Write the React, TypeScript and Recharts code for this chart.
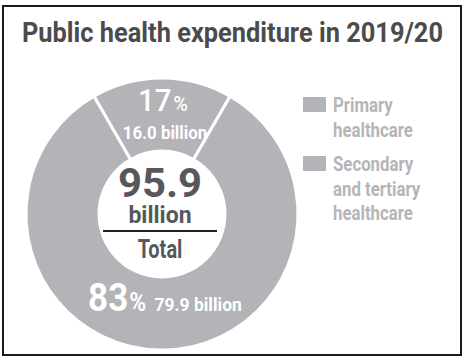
import { Pie, PieChart, Cell, Legend } from 'recharts';

// spending in billions, 2019/20
const categories = ['Primary\nhealthcare', 'Secondary\nand tertiary\nhealthcare'];
const values = [16.0, 79.9];
const title = 'Public health expenditure in 2019/20';
const totalLabel = 'Total';
const unit = 'billion';

const SLICE = '#b3b3b8';
const DARK = '#58585a';
const FONT = 'Roboto, sans-serif';

const data = categories.map((name, i) => ({ name, value: values[i] }));
const total = values.reduce((s, v) => s + v, 0);
const startAngle = 90 + (values[0] / total) * 180;

const CX = 157;
const CY = 209;
const RADIAN = Math.PI / 180;

// the original uses a condensed face, so squeeze Roboto horizontally
const Narrow = ({ x, y, sx = 0.8, anchor = 'middle', children, ...rest }: any) => (
  <text transform={`translate(${x},${y}) scale(${sx},1)`} textAnchor={anchor} fontFamily={FONT} fontWeight={700} {...rest}>
    {children}
  </text>
);

const renderSliceLabel = (props: any) => {
  const { cx, cy, midAngle, innerRadius, outerRadius, percent, value, index } = props;
  const r = (innerRadius + outerRadius) / 2;
  const x = cx + r * Math.cos(-midAngle * RADIAN);
  const y = cy + r * Math.sin(-midAngle * RADIAN);
  const pct = Math.round(percent * 100);
  if (index === 0) {
    return (
      <g>
        <Narrow x={x + 1} y={y - 4} sx={0.95} fill='#fff' fontWeight={500}>
          <tspan fontSize={31}>{pct}</tspan>
          <tspan fontSize={21} dx={2}>%</tspan>
        </Narrow>
        <Narrow x={x + 3} y={y + 24} sx={0.94} fontSize={18} fill='#fff'>
          {`${value.toFixed(1)} ${unit}`}
        </Narrow>
      </g>
    );
  }
  return (
    <Narrow x={x + 3} y={y - 3} sx={0.92} fill='#fff'>
      <tspan fontSize={38}>{pct}</tspan>
      <tspan fontSize={25} dx={1}>%</tspan>
      <tspan fontSize={19} dx={9}>{`${value.toFixed(1)} ${unit}`}</tspan>
    </Narrow>
  );
};

const LegendBox = (props: any) => {
  let top = 0;
  return (
    <svg width={160} height={140} style={{ display: 'block' }}>
      {(props.payload || []).map((entry: any) => {
        const lines = String(entry.value).split('\n');
        const y0 = top;
        top += lines.length * 24.5 + 10;
        return (
          <g key={entry.value}>
            <rect x={0} y={y0 + 3} width={23} height={15} fill={SLICE} />
            {lines.map((ln, j) => (
              <Narrow key={ln} x={30} y={y0 + 18 + j * 24.5} anchor='start' fontSize={21} fill='#b5b5b9'>
                {ln}
              </Narrow>
            ))}
          </g>
        );
      })}
    </svg>
  );
};

export default function App() {
  return (
    <div style={{ position: 'absolute', left: 0, top: 0, width: 466, height: 363, background: '#fff' }}>
      <div
        style={{
          position: 'absolute', left: 2, top: 5, width: 460, height: 351,
          border: '2px solid #1a1a1a', boxSizing: 'border-box',
        }}
      />
      <PieChart width={466} height={363} style={{ position: 'absolute', left: 0, top: 0 }}>
        <text
          x={22}
          y={42}
          textLength={421}
          lengthAdjust='spacingAndGlyphs'
          fontFamily={FONT}
          fontWeight={700}
          fontSize={28}
          fill='#4b4b4d'
        >
          {title}
        </text>
        <Pie
          data={data}
          dataKey='value'
          nameKey='name'
          cx={CX}
          cy={CY}
          innerRadius={63}
          outerRadius={136}
          startAngle={startAngle}
          endAngle={startAngle - 360}
          stroke='#fff'
          strokeWidth={3}
          label={renderSliceLabel}
          labelLine={false}
          isAnimationActive={false}
        >
          {data.map((d) => (
            <Cell key={d.name} fill={SLICE} />
          ))}
        </Pie>
        <g>
          <Narrow x={CX + 3} y={CY - 12} sx={1.02} fontSize={41} fill={DARK}>{total.toFixed(1)}</Narrow>
          <Narrow x={CX + 3} y={CY + 14} sx={1.0} fontSize={23} fill={DARK}>{unit}</Narrow>
          <line x1={CX - 54} x2={CX + 60} y1={CY + 22} y2={CY + 22} stroke='#222' strokeWidth={2} />
          <Narrow x={CX + 3} y={CY + 49} sx={0.8} fontSize={25} fill={DARK}>{totalLabel}</Narrow>
        </g>
        <Legend
          layout='vertical'
          align='right'
          verticalAlign='top'
          content={<LegendBox />}
          wrapperStyle={{ left: 303, top: 94, width: 160 }}
        />
      </PieChart>
    </div>
  );
}
